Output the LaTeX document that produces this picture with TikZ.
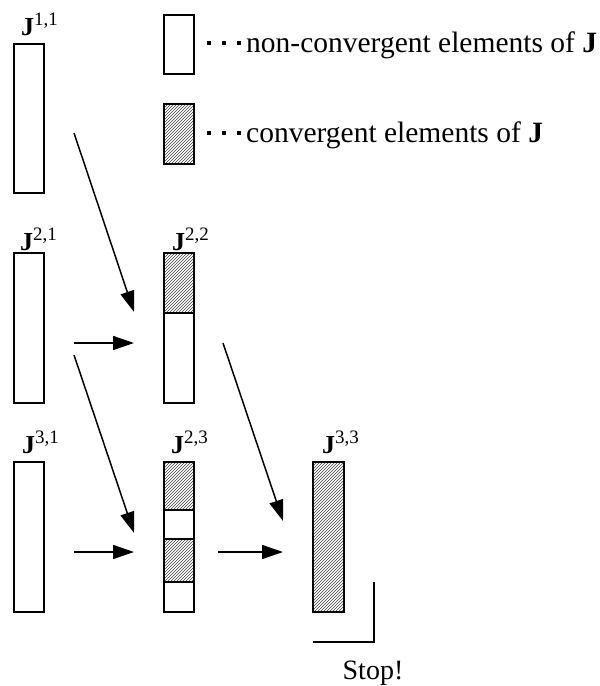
\documentclass[tikz,border=0pt]{standalone}
\usepackage{fontspec}
\setmainfont{Liberation Serif}
\usetikzlibrary{arrows.meta,patterns}
\newcommand{\jlab}[1]{\fontsize{26}{28}\selectfont\textbf{J}\raisebox{10pt}{\fontsize{19}{19}\selectfont #1}}
\tikzset{
  seg/.style={draw=black, line width=1.5pt, minimum width=30pt, inner sep=0pt, outer sep=0pt, anchor=north west},
  plain/.style={seg, fill=white},
  hatch/.style={seg, pattern=north east lines, pattern color=black!75},
  lab/.style={anchor=base west, inner sep=0pt},
  arr/.style={line width=1.5pt, -{Triangle[length=21pt,width=14pt]}},
  legtext/.style={anchor=base west, inner sep=0pt, font=\fontsize{29.5}{31}\selectfont},
  dot/.style={fill=black, draw=none, minimum size=4.5pt, inner sep=0pt}
}
\begin{document}
\begin{tikzpicture}[x=1pt,y=-1pt]
\useasboundingbox (0,0) rectangle (600,686);
% column 1
\node[plain, minimum height=149pt] (b11) at (14,44) {};
\node[plain, minimum height=150pt] (b21) at (14,253) {};
\node[plain, minimum height=150pt] (b31) at (14,462) {};
\node[lab] (l11) at (21,35) {\jlab{1,1}};
\node[lab] (l21) at (20,250) {\jlab{2,1}};
\node[lab] (l31) at (22,453) {\jlab{3,1}};
% J22
\node[hatch, minimum height=60pt] (b22a) at (164,253) {};
\node[plain, minimum height=90pt] (b22b) at (164,313) {};
\node[lab] (l22) at (172,250) {\jlab{2,2}};
% J23
\node[hatch, minimum height=48pt] (b23a) at (164,462) {};
\node[plain, minimum height=29pt] (b23b) at (164,510) {};
\node[hatch, minimum height=43pt] (b23c) at (164,539) {};
\node[plain, minimum height=30pt] (b23d) at (164,582) {};
\node[lab] (l23) at (171,453) {\jlab{2,3}};
% J33
\node[hatch, minimum height=150pt, minimum width=31pt] (b33) at (313,462) {};
\node[lab] (l33) at (322,453) {\jlab{3,3}};
% legend
\node[plain, minimum height=59pt] (leg1) at (164,15) {};
\node[hatch, minimum height=60pt] (leg2) at (164,104) {};
\node[dot] (d1a) at (209,43) {};
\node[dot] (d1b) at (224,43) {};
\node[dot] (d1c) at (239,43) {};
\node[dot] (d2a) at (209,133) {};
\node[dot] (d2b) at (224,133) {};
\node[dot] (d2c) at (239,133) {};
\node[legtext] (t1) at (246,52) {non-convergent elements of \textbf{J}};
\node[legtext] (t2) at (246,142) {convergent elements of \textbf{J}};
% arrows
\coordinate (a1s) at (74,133);  \coordinate (a1e) at (134,312);
\coordinate (a2s) at (74,343);  \coordinate (a2e) at (134,343);
\coordinate (a3s) at (74,355);  \coordinate (a3e) at (134,533);
\coordinate (a4s) at (223,343); \coordinate (a4e) at (283,521);
\coordinate (a5s) at (74,552);  \coordinate (a5e) at (134,552);
\coordinate (a6s) at (218,552); \coordinate (a6e) at (283,552);
\draw[arr] (a1s) -- (a1e);
\draw[arr] (a2s) -- (a2e);
\draw[arr] (a3s) -- (a3e);
\draw[arr] (a4s) -- (a4e);
\draw[arr] (a5s) -- (a5e);
\draw[arr] (a6s) -- (a6e);
% stop bracket
\coordinate (s1) at (374,582);
\coordinate (s2) at (374,642);
\coordinate (s3) at (313,642);
\draw[line width=1.4pt] (s1) -- (s2) -- (s3);
\node[anchor=base, inner sep=0pt, font=\fontsize{28}{30}\selectfont] (stop) at (373,679) {Stop!};
\end{tikzpicture}
\end{document}
